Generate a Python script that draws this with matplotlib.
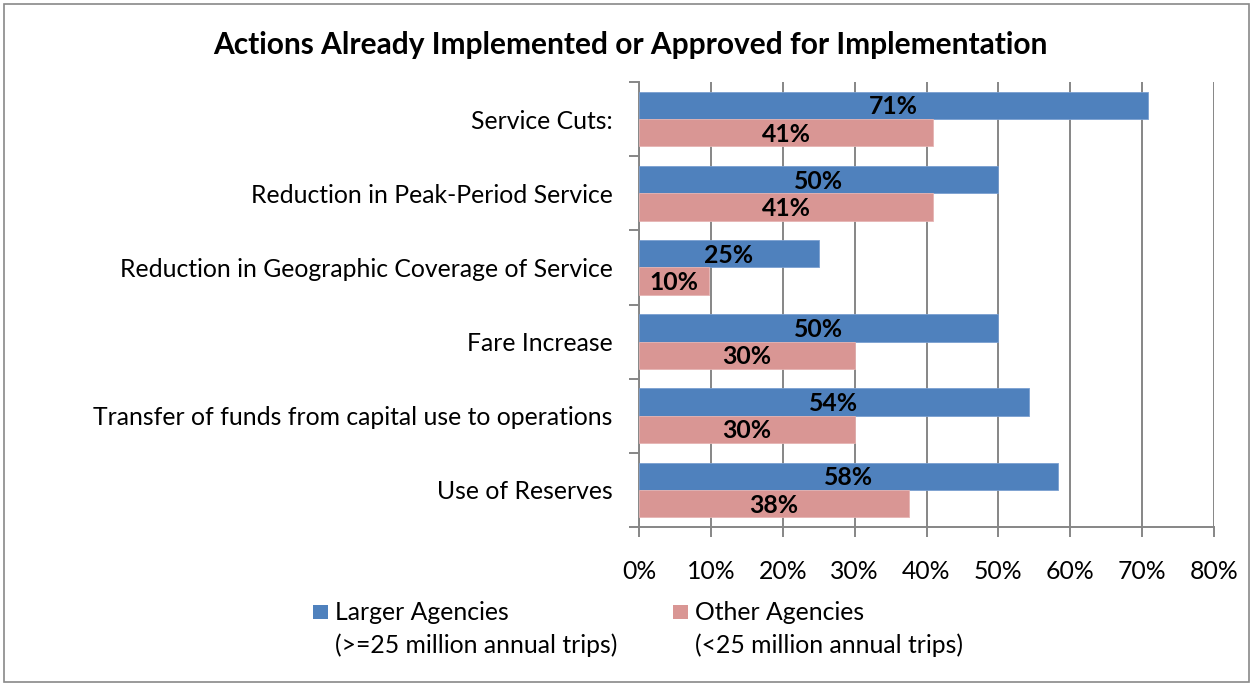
import matplotlib
matplotlib.use("Agg")
import matplotlib.pyplot as plt
from matplotlib.patches import Rectangle
import numpy as np

# ── data ──
categories = [
    "Service Cuts:",
    "Reduction in Peak-Period Service",
    "Reduction in Geographic Coverage of Service",
    "Fare Increase",
    "Transfer of funds from capital use to operations",
    "Use of Reserves",
]
larger = [70.8, 50.0, 25.0, 50.0, 54.2, 58.3]
other = [40.9, 40.9, 9.7, 30.1, 30.1, 37.6]
xticks = [0, 10, 20, 30, 40, 50, 60, 70, 80]

col_blue = "#4F81BD"
col_red = "#D99694"
col_grid = "#868686"
FONT = "Lato"
FS = 17.8

plt.rcParams["font.family"] = FONT

fig = plt.figure(figsize=(12.53, 6.86), dpi=100)
W, H = 1253, 686
ax = fig.add_axes([639 / W, 1 - 527 / H, (1214 - 639) / W, (527 - 82) / H])

y = np.arange(len(categories))
h = 0.368
ax.barh(y - h / 2, larger, height=h, color=col_blue, edgecolor="#7A9FD0", linewidth=0.6, zorder=3)
ax.barh(y + h / 2, other, height=h, color=col_red, edgecolor="#E6B4B3", linewidth=0.6, zorder=3)

for i in range(len(categories)):
    ax.text(larger[i] / 2, y[i] - h / 2 + 0.02, f"{larger[i]:.0f}%", ha="center", va="center",
            fontsize=FS, fontweight="bold", color="black", zorder=4)
    ax.text(other[i] / 2, y[i] + h / 2 + 0.02, f"{other[i]:.0f}%", ha="center", va="center",
            fontsize=FS, fontweight="bold", color="black", zorder=4)

ax.set_xlim(0, 80)
ax.set_ylim(len(categories) - 0.5, -0.5)
ax.set_xticks(xticks)
ax.set_xticklabels([f"{v}%" for v in xticks], fontsize=FS)
ax.set_yticks(y)
ax.set_yticklabels(categories, fontsize=FS)
ax.set_yticks(np.arange(-0.5, len(categories)), minor=True)
ax.tick_params(axis="y", which="major", length=0, pad=19)
ax.tick_params(axis="y", which="minor", length=7, width=1.4, color=col_grid, direction="out")
ax.tick_params(axis="x", length=7, width=1.4, color=col_grid, direction="out", pad=17)

ax.grid(axis="x", color=col_grid, linewidth=1.4, zorder=0)
for s in ["top", "right"]:
    ax.spines[s].set_visible(False)
for s in ["left", "bottom"]:
    ax.spines[s].set_color(col_grid)
    ax.spines[s].set_linewidth(1.4)

fig.text(630 / W, 1 - 45 / H, "Actions Already Implemented or Approved for Implementation",
         ha="center", va="center", fontsize=21.5, fontweight="bold")

# legend (manual, Excel style)
legend_items = [
    (313, col_blue, "Larger Agencies", "(>=25 million annual trips)"),
    (673, col_red, "Other Agencies", "(<25 million annual trips)"),
]
for x0, c, l1, l2 in legend_items:
    fig.add_artist(Rectangle((x0 / W, 1 - 619 / H), 15 / W, 14 / H, transform=fig.transFigure,
                             facecolor=c, edgecolor="none"))
    fig.text((x0 + 22) / W, 1 - 612 / H, l1, ha="left", va="center", fontsize=FS)
    fig.text((x0 + 22) / W, 1 - 645 / H, l2, ha="left", va="center", fontsize=FS)

fig.add_artist(Rectangle((4 / W, 4 / H), 1245 / W, 678 / H, transform=fig.transFigure,
                         facecolor="none", edgecolor="#898989", linewidth=1.2))

fig.savefig("out.png", dpi=100)
